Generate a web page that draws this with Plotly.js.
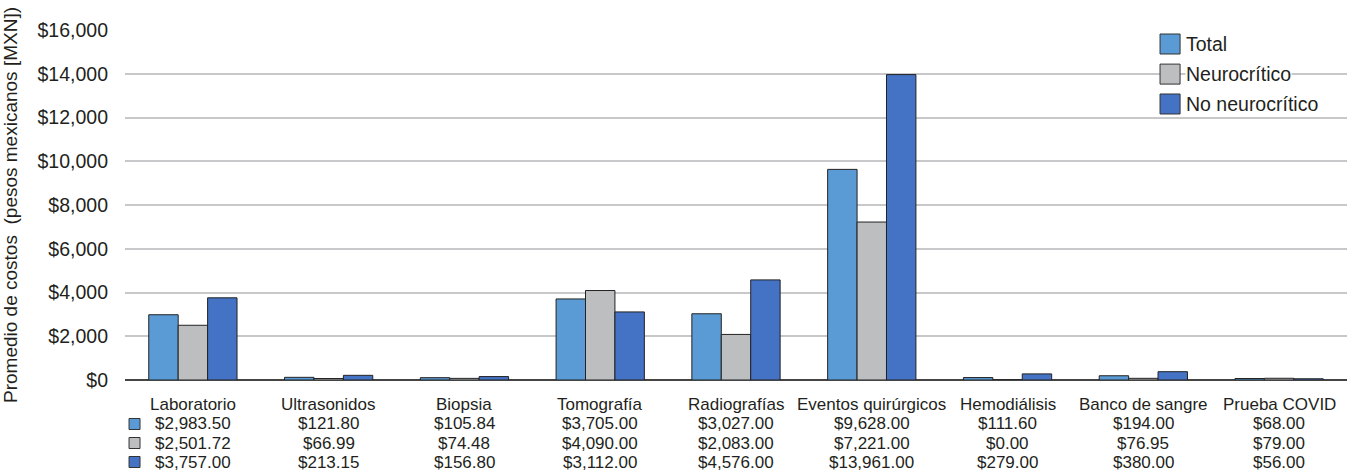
<!DOCTYPE html>
<html>
<head>
<meta charset="utf-8">
<script src="https://cdn.plot.ly/plotly-3.0.1.min.js"></script>
<style>html,body{margin:0;padding:0;background:#fff;}#chart{width:1358px;height:475px;}</style>
</head>
<body>
<div id="chart"></div>
<script>
const categories = ["Laboratorio","Ultrasonidos","Biopsia","Tomografía","Radiografías","Eventos quirúrgicos","Hemodiálisis","Banco de sangre","Prueba COVID"];
const total = [2983.50,121.80,105.84,3705.00,3027.00,9628.00,111.60,194.00,68.00];
const neurocritico = [2501.72,66.99,74.48,4090.00,2083.00,7221.00,0.00,76.95,79.00];
const noNeurocritico = [3757.00,213.15,156.80,3112.00,4576.00,13961.00,279.00,380.00,56.00];
const seriesNames = ["Total","Neurocrítico","No neurocrítico"];
const colors = ["#5b9bd5","#bcbec0","#4472c4"];
const seriesData = [total, neurocritico, noNeurocritico];

const FONT = "Liberation Sans, Arial, Helvetica, sans-serif";
const TXT = '#231f20';
const traces = seriesData.map((vals,i)=>({
  type:'bar', name:seriesNames[i], x:categories, y:vals,
  marker:{color:colors[i], line:{color:'#222', width:1}},
  hoverinfo:'x+y', showlegend:false
}));

function money(v){
  return '$' + v.toLocaleString('en-US',{minimumFractionDigits:2, maximumFractionDigits:2});
}

const annotations = [];
const shapes = [];
// category labels row
categories.forEach(c=>{
  annotations.push({x:c, xref:'x', y:-0.0686, yref:'paper', text:c, showarrow:false,
    xanchor:'center', yanchor:'middle', font:{family:FONT, size:17, color:TXT}});
});
const rowY = [-0.1257, -0.18, -0.2343];
seriesData.forEach((vals,i)=>{
  vals.forEach((v,j)=>{
    annotations.push({x:categories[j], xref:'x', y:rowY[i], yref:'paper', text:money(v), showarrow:false,
      xanchor:'center', yanchor:'middle', font:{family:FONT, size:17, color:TXT}});
  });
  const half = 5.5/350;
  shapes.push({type:'rect', xref:'paper', yref:'paper', x0:0.0033, x1:0.0123,
    y0:rowY[i]-half, y1:rowY[i]+half, fillcolor:colors[i], line:{color:'#333', width:1}});
});

// custom legend (top right)
const legY = [0.96, 0.874, 0.7886];
seriesNames.forEach((n,i)=>{
  const h = 10/350;
  shapes.push({type:'rect', xref:'paper', yref:'paper', x0:0.847, x1:0.8634,
    y0:legY[i]-h, y1:legY[i]+h, fillcolor:colors[i], line:{color:'#333', width:1}});
  annotations.push({x:0.8675, xref:'paper', y:legY[i], yref:'paper', text:n, showarrow:false,
    xanchor:'left', yanchor:'middle', bgcolor:'#fff', borderpad:0,
    font:{family:FONT, size:19.5, color:TXT}});
});

const layout = {
  width:1358, height:475,
  margin:{l:125, r:11, t:30, b:95},
  paper_bgcolor:'#fff', plot_bgcolor:'#fff',
  barmode:'group', bargap:0.35, bargroupgap:0,
  font:{family:FONT, size:16, color:TXT},
  xaxis:{showticklabels:false, showgrid:false, zeroline:false, showline:false, ticks:''},
  yaxis:{range:[0,16000], dtick:2000, tickprefix:'$', tickformat:',d',
    showgrid:true, gridcolor:'#c8c8ca', gridwidth:1.5,
    zeroline:true, zerolinecolor:'#444', zerolinewidth:1.5,
    showline:false, ticks:'', ticklabelstandoff:16,
    tickfont:{family:FONT, size:19.5, color:TXT},
    title:{text:'Promedio de costos  (pesos mexicanos [MXN])', font:{family:FONT, size:19, color:TXT}, standoff:16}},
  annotations:annotations,
  shapes:shapes,
  showlegend:false
};
Plotly.newPlot('chart', traces, layout, {displayModeBar:false, responsive:false});
</script>
</body>
</html>
